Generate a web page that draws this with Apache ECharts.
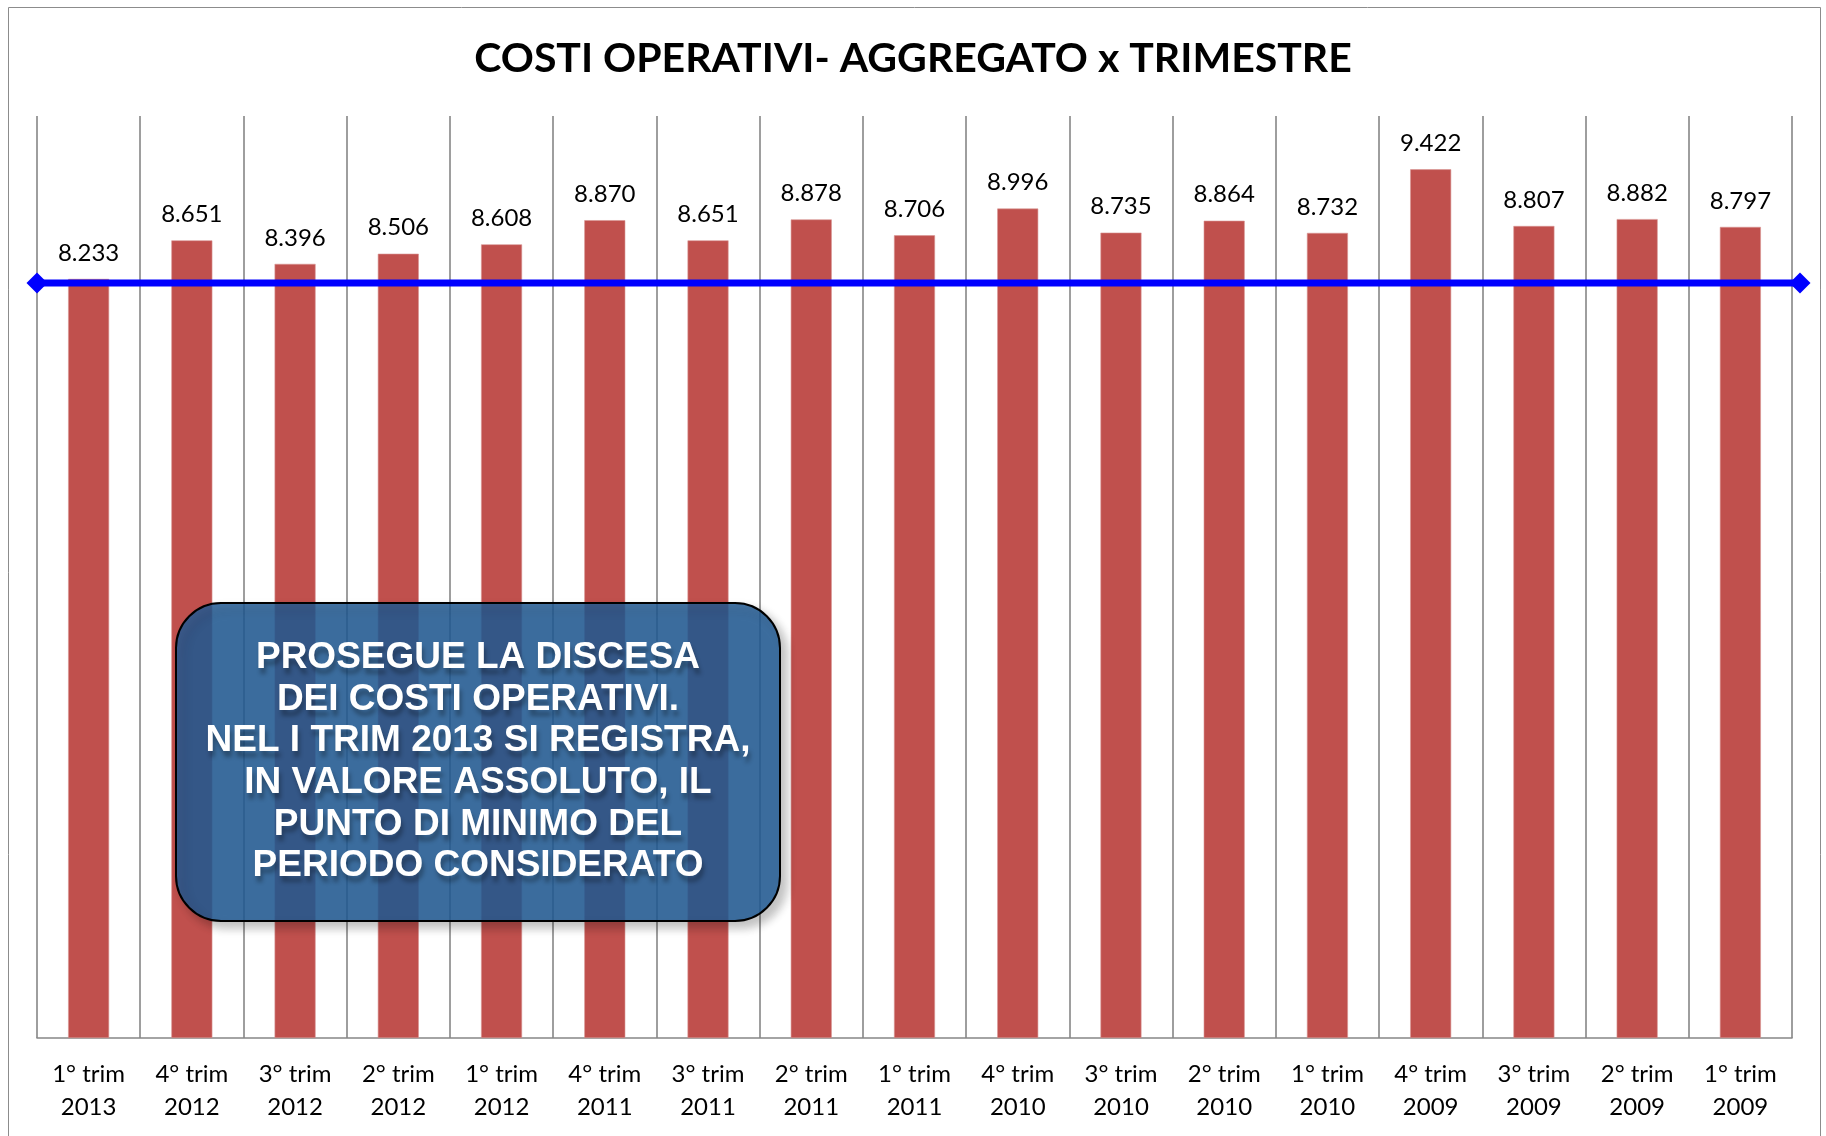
<!DOCTYPE html>
<html>
<head>
<meta charset="utf-8">
<script src="https://cdn.jsdelivr.net/npm/echarts@6/dist/echarts.min.js"></script>
<style>
html,body{margin:0;padding:0;background:#fff;}
#chart{width:1826px;height:1136px;}
</style>
</head>
<body>
<div id="chart"></div>
<script>
var quarters = ['1° trim','4° trim','3° trim','2° trim','1° trim','4° trim','3° trim','2° trim','1° trim','4° trim','3° trim','2° trim','1° trim','4° trim','3° trim','2° trim','1° trim'];
var years = ['2013','2012','2012','2012','2012','2011','2011','2011','2011','2010','2010','2010','2010','2009','2009','2009','2009'];
var costi = [8.233,8.651,8.396,8.506,8.608,8.870,8.651,8.878,8.706,8.996,8.735,8.864,8.732,9.422,8.807,8.882,8.797];
var lineEnds = ['inizio','fine'];
var minLine = [8.19, 8.19];
var noteLines = ['PROSEGUE LA DISCESA','DEI COSTI OPERATIVI.','NEL I TRIM 2013 SI REGISTRA,','IN VALORE ASSOLUTO, IL','PUNTO DI MINIMO DEL','PERIODO CONSIDERATO'];

var categories = quarters.map(function(q,i){ return q + '\n' + years[i]; });

var chart = echarts.init(document.getElementById('chart'));
chart.setOption({
  animation: false,
  backgroundColor: '#ffffff',
  title: {
    text: 'COSTI OPERATIVI- AGGREGATO x TRIMESTRE',
    left: 'center',
    top: 33,
    textStyle: { fontFamily: 'Lato', fontWeight: 'bold', fontSize: 41, color: '#000' }
  },
  grid: [
    { left: 37, right: 34, top: 116, bottom: 98 },
    { left: 37, right: 26, top: 116, bottom: 98 }
  ],
  xAxis: [
    {
      type: 'category', gridIndex: 0, data: categories,
      axisLine: { show: true, lineStyle: { color: '#868686', width: 1.6 } },
      axisTick: { show: false },
      splitLine: { show: true, interval: 0, lineStyle: { color: '#868686', width: 1.6 } },
      axisLabel: { interval: 0, margin: 20, fontFamily: 'Lato', fontSize: 24, lineHeight: 33, color: '#000' }
    },
    {
      type: 'category', gridIndex: 1, data: lineEnds, boundaryGap: false, show: false
    }
  ],
  yAxis: [
    { type: 'value', gridIndex: 0, min: 0, max: 10, show: false, splitLine: { show: false } },
    { type: 'value', gridIndex: 1, min: 0, max: 10, show: false, splitLine: { show: false } }
  ],
  series: [
    {
      type: 'bar', xAxisIndex: 0, yAxisIndex: 0, data: costi, barWidth: 41,
      itemStyle: { color: '#C0504D', borderColor: '#D99593', borderWidth: 0.6 },
      label: {
        show: true, position: 'top', distance: 12,
        fontFamily: 'Lato', fontSize: 24, lineHeight: 28, color: '#000',
        formatter: function(p){ return p.value.toFixed(3); }
      }
    },
    {
      type: 'line', xAxisIndex: 1, yAxisIndex: 1, data: minLine,
      symbol: 'diamond', symbolSize: 21, showSymbol: true,
      lineStyle: { color: '#0000FF', width: 7 },
      itemStyle: { color: '#0000FF' },
      z: 5
    }
  ],
  graphic: [
    {
      type: 'rect', left: 6, top: 5, z: 0, silent: true,
      shape: { width: 1812, height: 1200 },
      style: { fill: 'none', stroke: '#8c8c8c', lineWidth: 1 }
    },
    {
      type: 'rect', left: 175, top: 602, z: 100,
      shape: { width: 604, height: 318, r: 45 },
      style: {
        fill: 'rgba(33,92,150,0.84)', stroke: '#000', lineWidth: 2,
        shadowColor: 'rgba(0,0,0,0.28)', shadowBlur: 10, shadowOffsetX: 6, shadowOffsetY: 6
      },
      textContent: {
        type: 'text',
        z: 101,
        style: {
          text: noteLines.join('\n'),
          align: 'center',
          fill: '#ffffff',
          font: 'bold 37px "Liberation Sans", Arial, sans-serif',
          lineHeight: 41.6,
          textShadowColor: 'rgba(0,0,0,0.3)', textShadowBlur: 4, textShadowOffsetX: 2, textShadowOffsetY: 6
        }
      },
      textConfig: { position: 'inside' }
    }
  ]
});
</script>
</body>
</html>
